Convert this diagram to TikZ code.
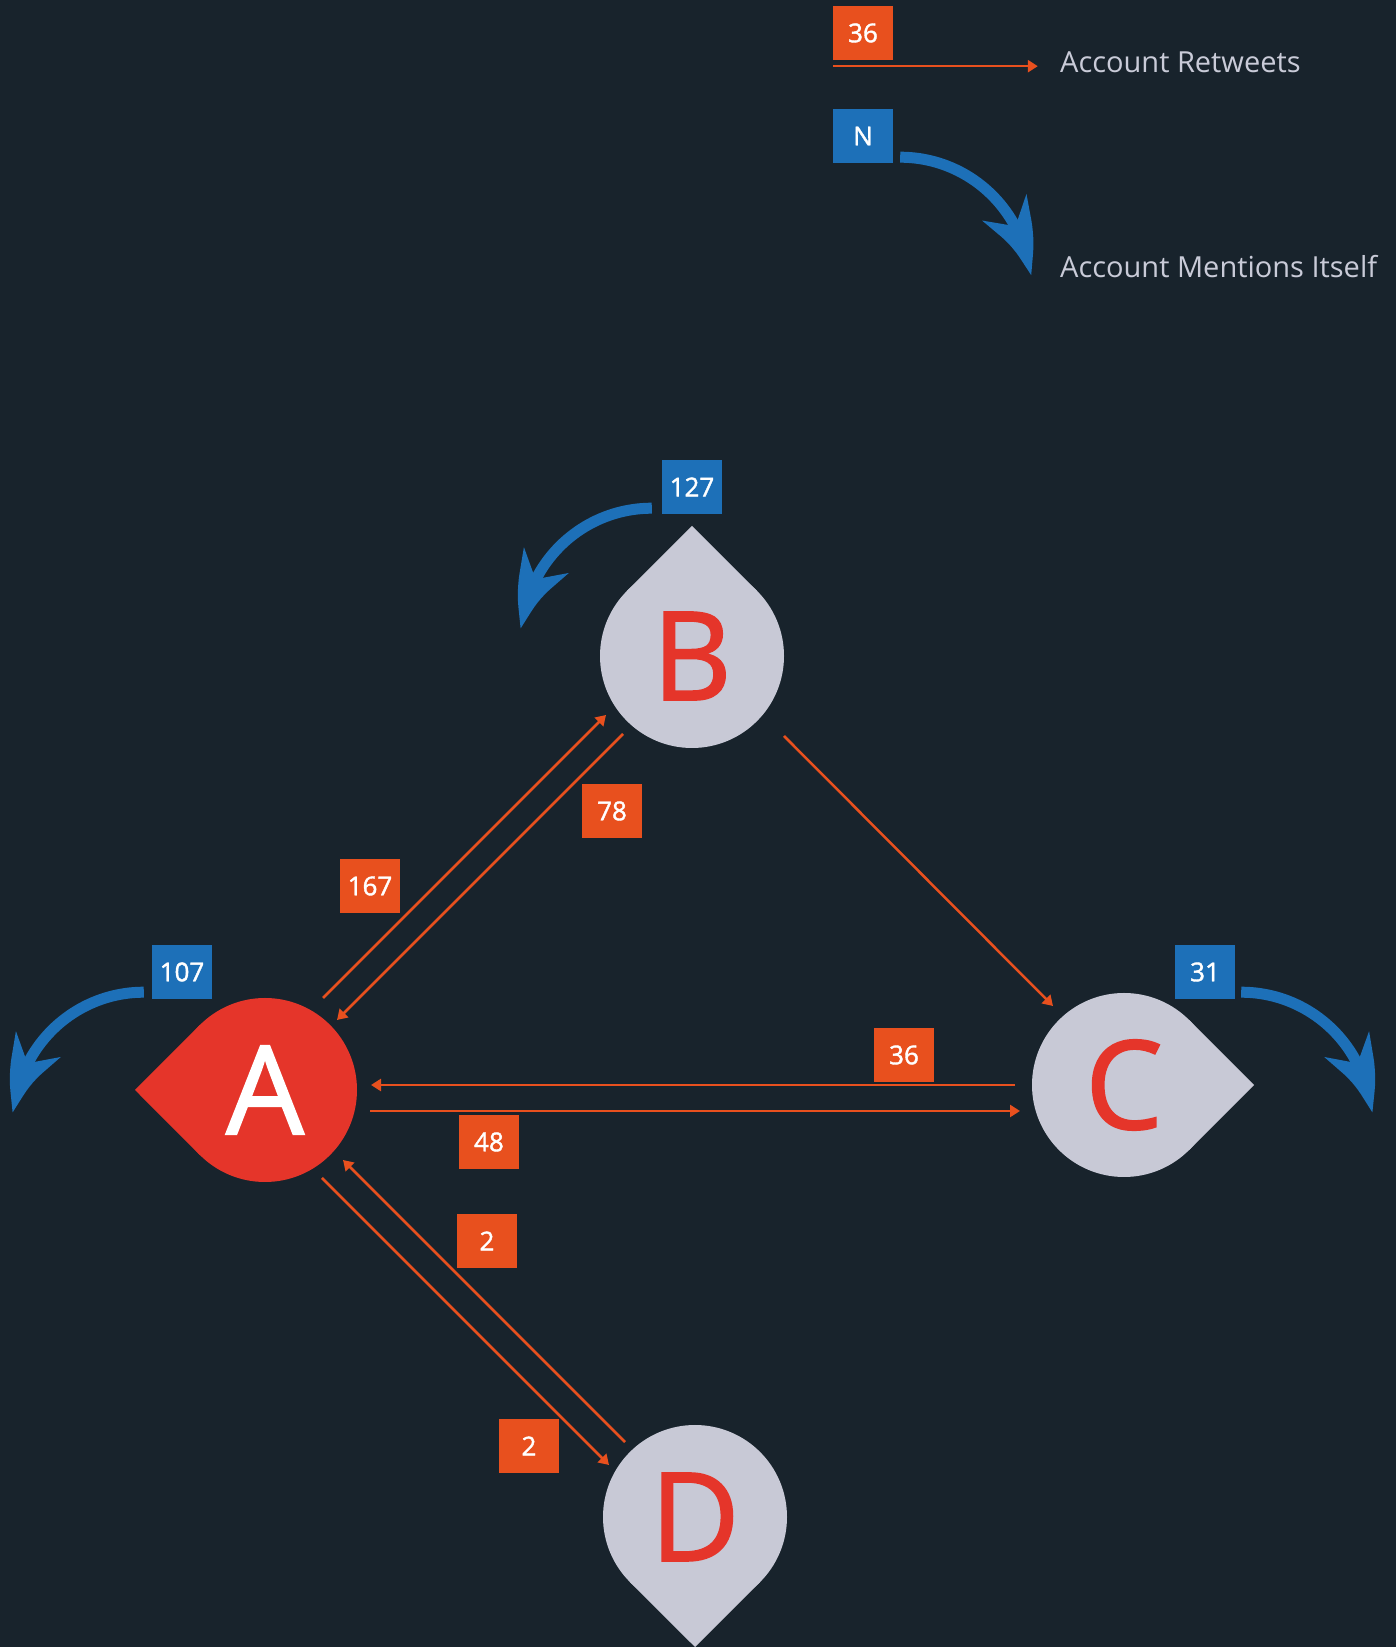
\documentclass[tikz,border=0pt]{standalone}
\usepackage{fontspec}
\setmainfont{Open Sans}
\newfontfamily\semifont{Open Sans}[FakeBold=1.5]
\usetikzlibrary{arrows.meta, bending, backgrounds}

\definecolor{bgnavy}{HTML}{18232C}
\definecolor{dropgrey}{HTML}{C8C9D6}
\definecolor{dropred}{HTML}{E5352A}
\definecolor{rtorange}{HTML}{E8501E}
\definecolor{selfblue}{HTML}{1D70B8}
\definecolor{keytext}{HTML}{C9CBD8}

\begin{document}
\begin{tikzpicture}[x=1pt, y=1pt,
                    drop/.style={circle, inner sep=0pt, minimum size=184pt, font=\semifont\fontsize{123}{123}\selectfont},
                    count/.style={inner sep=0pt, minimum width=60pt, minimum height=54pt, text=white, font=\semifont\fontsize{26}{26}\selectfont},
                    rtcount/.style={count, fill=rtorange},
                    selfcount/.style={count, fill=selfblue},
                    keylabel/.style={anchor=base west, inner sep=0pt, text=keytext, font=\fontsize{29}{29}\selectfont},
                    retweet/.style={draw=rtorange, line width=2.5pt, -{Triangle[length=10pt, width=12pt]}},
                    mention/.style={draw=selfblue, line width=11pt, -{Stealth[length=75pt, width=50pt, inset=22pt, bend]}}]

                    \useasboundingbox (0,0) rectangle (1396,1647);

                    % Define nodes
                    \node[drop, fill=dropred, text=white] (A) at (265,557) {A}; % left account
                    \node[drop, fill=dropgrey, text=dropred] (B) at (692,991) {B}; % top account
                    \node[drop, fill=dropgrey, text=dropred] (C) at (1124,562) {C}; % right account
                    \node[drop, fill=dropgrey, text=dropred] (D) at (695,130) {D}; % bottom account

                    \node[selfcount] (selfA) at (182,675) {107};
                    \node[selfcount] (selfB) at (692,1160) {127};
                    \node[selfcount] (selfC) at (1205,675) {31};

                    \node[rtcount] (AB) at (370,761) {167};
                    \node[rtcount] (BA) at (612,836) {78};
                    \node[rtcount] (CA) at (904,592) {36};
                    \node[rtcount] (AC) at (489,505) {48};
                    \node[rtcount] (DA) at (487,406) {2};
                    \node[rtcount] (AD) at (529,201) {2};

                    % Legend
                    \node[rtcount] (keyrt) at (863,1614) {36};
                    \node[selfcount] (keyself) at (863,1511) {N};
                    \node[keylabel] (rtlabel) at (1060,1574) {Account Retweets};
                    \node[keylabel] (selflabel) at (1060,1369) {Account Mentions Itself};

                    % Define edges
                    \draw[retweet] ([shift={(58,92)}]A.center) -- ([shift={(-86,-59)}]B.center);
                    \draw[retweet] ([shift={(-69,-78)}]B.center) -- ([shift={(72,70)}]A.center);
                    \draw[retweet] ([shift={(92,-80)}]B.center) -- ([shift={(-71,79)}]C.center);
                    \draw[retweet] ([shift={(-109,0)}]C.center) -- ([shift={(106,5)}]A.center);
                    \draw[retweet] ([shift={(105,-21)}]A.center) -- ([shift={(-104,-26)}]C.center);
                    \draw[retweet] ([shift={(57,-88)}]A.center) -- ([shift={(-86,52)}]D.center);
                    \draw[retweet] ([shift={(-70,75)}]D.center) -- ([shift={(78,-70)}]A.center);
                    \draw[retweet] ([yshift=-6pt]keyrt.south west) -- ++(205,0);

                    % Self mentions
                    \draw[mention] ([xshift=-8pt, yshift=7pt]selfA.south west) arc[start angle=90, end angle=176, radius=130];
                    \draw[mention] ([xshift=-10pt, yshift=6pt]selfB.south west) arc[start angle=90, end angle=176, radius=130];
                    \draw[mention] ([xshift=6pt, yshift=7pt]selfC.south east) arc[start angle=90, end angle=4, radius=130];
                    \draw[mention] ([xshift=7pt, yshift=6pt]keyself.south east) arc[start angle=90, end angle=5, radius=130];

                    % Background and drop tips
                    \begin{scope}[on background layer]
                    \fill[bgnavy] (0,0) rectangle (1396,1647);
                    \fill[dropred] (A.center) -- +(135:92) -- +(180:130) -- +(225:92) -- cycle;
                    \fill[dropgrey] (B.center) -- +(45:92) -- +(90:130) -- +(135:92) -- cycle;
                    \fill[dropgrey] (C.center) -- +(-45:92) -- +(0:130) -- +(45:92) -- cycle;
                    \fill[dropgrey] (D.center) -- +(-135:92) -- +(-90:130) -- +(-45:92) -- cycle;
                    \end{scope}
                \end{tikzpicture}
\end{document}
